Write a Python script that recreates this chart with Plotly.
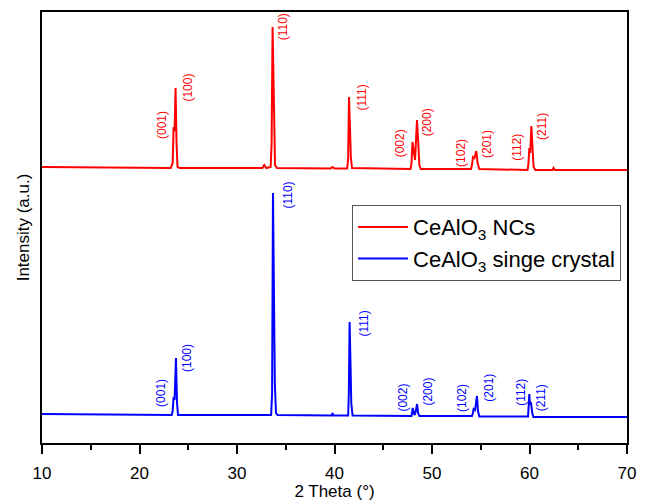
import plotly.graph_objects as go

# ---- data (2 Theta in degrees, intensity in arbitrary units) ----
nc_theta = [10.0, 15.0, 20.0, 23.2, 23.4, 23.5, 23.6, 23.7, 23.8, 23.9, 24.1,
            30.0, 32.6, 32.8, 33.0, 33.45, 33.55, 33.65, 33.75, 33.82, 33.9, 34.1,
            39.6, 39.8, 40.0, 41.3, 41.4, 41.49, 41.6, 41.68, 41.8,
            47.8, 47.9, 48.0, 48.26, 48.46, 48.6, 48.7, 48.85,
            54.0, 54.1, 54.2, 54.35, 54.54, 54.68, 54.85,
            59.8, 59.9, 59.98, 60.08, 60.19, 60.3, 60.42, 60.6,
            62.35, 62.47, 62.6, 70.0]
nc_int = [276, 275.5, 275, 275, 280, 316, 312, 355, 300, 276, 275,
          275, 275, 278, 275, 276, 300, 416, 356, 300, 278, 275,
          274.5, 276, 274.5, 274.5, 285, 346, 315, 285, 275,
          274, 280, 301, 283, 323, 298, 278, 274,
          274, 278, 286, 285, 292, 280, 274,
          273, 280, 295, 290, 317, 293, 276, 273,
          273, 275, 273, 273]

sc_theta = [10.0, 20.0, 23.3, 23.4, 23.5, 23.6, 23.74, 23.85, 23.95,
            33.5, 33.6, 33.69, 33.8, 33.88, 34.0, 34.15,
            39.7, 39.8, 39.9, 41.4, 41.47, 41.55, 41.65, 41.72, 41.85,
            47.9, 47.95, 48.02, 48.2, 48.3, 48.47, 48.58, 48.7,
            54.1, 54.2, 54.27, 54.42, 54.61, 54.72, 54.85,
            59.85, 59.92, 59.98, 60.05, 60.15, 60.28, 60.4, 70.0]
sc_int = [29, 28.5, 28, 32, 46, 43, 85, 40, 28,
          28, 50, 250, 166, 60, 30, 28,
          27.5, 30, 27.5, 27.5, 50, 121, 76, 40, 27.5,
          27, 30, 35, 28, 30, 39, 30, 27,
          27, 30, 34, 33, 47, 32, 26.5,
          26.5, 35, 49, 38, 41, 30, 26, 26]

hkl = ["(001)", "(100)", "(110)", "(111)", "(002)", "(200)",
       "(102)", "(201)", "(112)", "(211)"]
nc_label_x = [22.31, 24.93, 34.75, 42.87, 46.75, 49.52, 52.97, 55.64, 58.65, 61.28]
nc_label_y = [318, 355, 416, 346, 300, 321, 290, 299, 295.5, 317]
sc_label_x = [22.2, 24.87, 35.13, 42.98, 46.98, 49.55, 53.08, 55.81, 59.06, 61.21]
sc_label_y = [50, 85, 247.5, 119, 45, 51, 45, 55, 50.5, 45]

x_ticks = [10, 20, 30, 40, 50, 60, 70]

RED = "#FF0000"
BLUE = "#0000FF"
FONT = "Liberation Sans, Arial, sans-serif"

fig = go.Figure()
fig.add_trace(go.Scatter(x=nc_theta, y=nc_int, mode="lines",
                         line=dict(color=RED, width=2),
                         name="CeAlO<sub>3</sub> NCs"))
fig.add_trace(go.Scatter(x=sc_theta, y=sc_int, mode="lines",
                         line=dict(color=BLUE, width=2),
                         name="CeAlO<sub>3</sub> singe crystal"))

for t, xx, yy in zip(hkl, nc_label_x, nc_label_y):
    fig.add_annotation(x=xx, y=yy, text=t, showarrow=False, textangle=-90,
                       xanchor="center", yanchor="middle",
                       font=dict(family=FONT, size=12, color=RED))
for t, xx, yy in zip(hkl, sc_label_x, sc_label_y):
    fig.add_annotation(x=xx, y=yy, text=t, showarrow=False, textangle=-90,
                       xanchor="center", yanchor="middle",
                       font=dict(family=FONT, size=12, color=BLUE))

fig.update_layout(
    width=638, height=493,
    margin=dict(l=34, r=19, t=4, b=58, autoexpand=False),
    paper_bgcolor="white", plot_bgcolor="white",
    font=dict(family=FONT, size=17, color="black"),
    legend=dict(x=0.53, y=0.552, xanchor="left", yanchor="top",
                bordercolor="#555555", borderwidth=1, bgcolor="white",
                font=dict(family=FONT, size=22, color="black"),
                itemwidth=50, tracegroupgap=4),
    showlegend=True,
)
fig.update_xaxes(range=[10, 70], tickvals=x_ticks, ticktext=[str(v) for v in x_ticks],
                 ticks="outside", ticklen=9, tickwidth=2, tickcolor="black",
                 ticklabelstandoff=5,
                 minor=dict(dtick=5, tick0=5, ticks="outside", ticklen=5,
                            tickwidth=2, tickcolor="black"),
                 showline=True, linewidth=2, linecolor="black", mirror=True,
                 showgrid=False, zeroline=False, automargin=False,
                 title=dict(text="2 Theta (°)", standoff=3,
                            font=dict(family=FONT, size=17)),
                 tickfont=dict(family=FONT, size=17))
fig.update_yaxes(range=[0, 431], showticklabels=False, ticks="",
                 showline=True, linewidth=2, linecolor="black", mirror=True,
                 showgrid=False, zeroline=False, automargin=False,
                 title=dict(text="Intensity (a.u.)", standoff=6,
                            font=dict(family=FONT, size=17)))

fig.write_html("out.html")
